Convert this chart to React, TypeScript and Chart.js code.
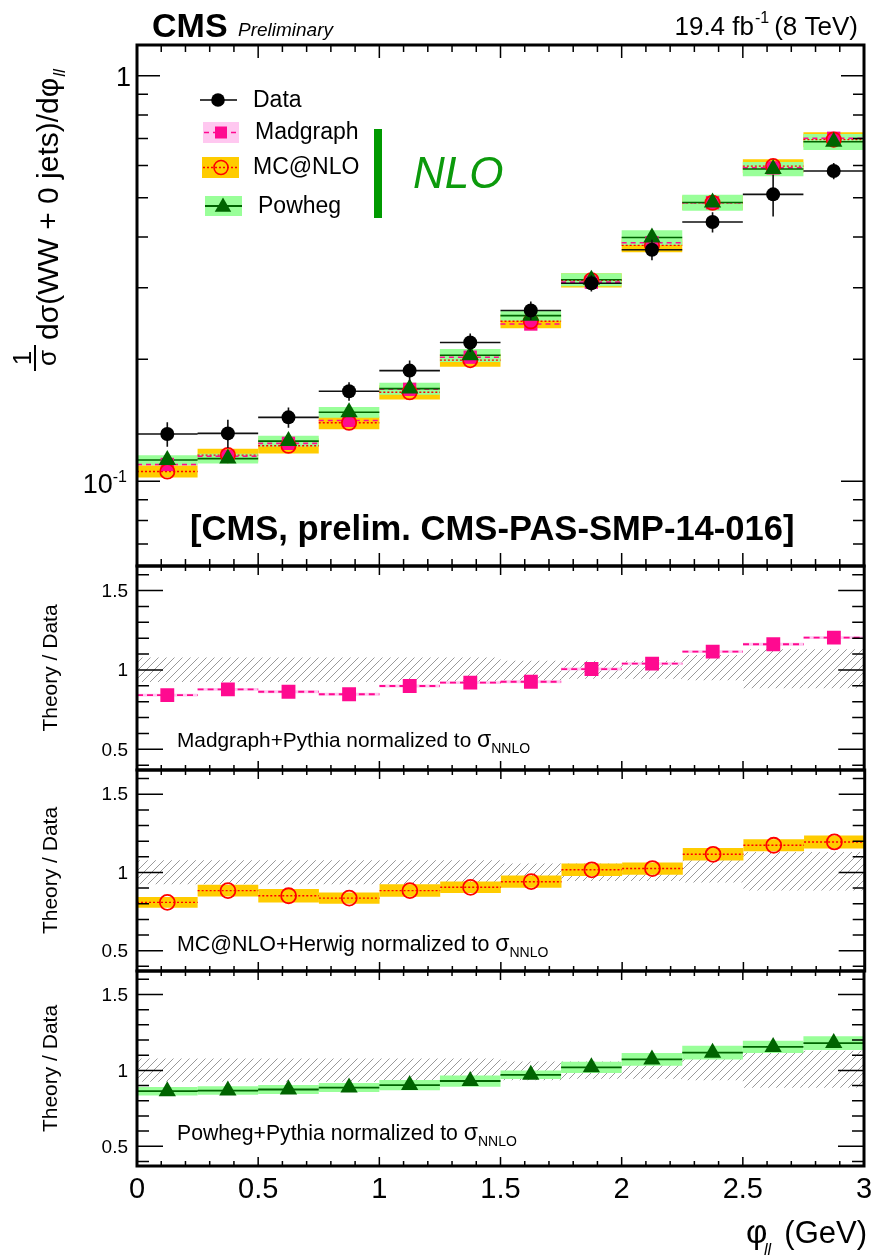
import React, { useEffect, useRef } from 'react';
import { Chart, registerables } from 'chart.js';

Chart.register(...registerables);

const FONT = "'Liberation Sans', Arial, Helvetica, sans-serif";

// ---------------- data ----------------
const binCenters = [0.125, 0.375, 0.625, 0.875, 1.125, 1.375, 1.625, 1.875, 2.125, 2.375, 2.625, 2.875];
const binHalfWidth = 0.125;

const dataValues = [0.1307, 0.1312, 0.1437, 0.1667, 0.1874, 0.2198, 0.2636, 0.3078, 0.3723, 0.4355, 0.5097, 0.582];
const dataErrors = [0.009, 0.0105, 0.0083, 0.0087, 0.011, 0.0114, 0.0137, 0.014, 0.0216, 0.025, 0.06, 0.027];

const madgraphValues = [0.11, 0.1152, 0.124, 0.1412, 0.1685, 0.2022, 0.2441, 0.3096, 0.3872, 0.486, 0.5923, 0.7007];
const mcnloValues = [0.1057, 0.116, 0.1223, 0.1394, 0.1657, 0.1989, 0.248, 0.313, 0.3816, 0.486, 0.5984, 0.6955];
const powhegValues = [0.1128, 0.1137, 0.1256, 0.1479, 0.1692, 0.2044, 0.256, 0.314, 0.3991, 0.4865, 0.5887, 0.6868];

const madgraphRatio = [0.842, 0.878, 0.863, 0.847, 0.899, 0.92, 0.926, 1.006, 1.04, 1.116, 1.162, 1.204];
const mcnloRatio = [0.809, 0.884, 0.851, 0.836, 0.884, 0.905, 0.941, 1.017, 1.025, 1.116, 1.174, 1.195];
const powhegRatio = [0.863, 0.867, 0.874, 0.887, 0.903, 0.93, 0.971, 1.02, 1.072, 1.117, 1.155, 1.18];

// theory uncertainties (relative, ratio units)
const madgraphUnc = [0.009, 0.009, 0.009, 0.009, 0.009, 0.009, 0.009, 0.009, 0.009, 0.009, 0.009, 0.009];
const mcnloUnc = [0.034, 0.037, 0.043, 0.036, 0.04, 0.037, 0.039, 0.04, 0.039, 0.04, 0.039, 0.042];
const powhegUnc = [0.028, 0.028, 0.03, 0.03, 0.034, 0.037, 0.028, 0.037, 0.042, 0.045, 0.04, 0.045];

// data uncertainty band (hatched) in ratio panels
const hatchUp = [0.078, 0.078, 0.078, 0.078, 0.078, 0.078, 0.058, 0.058, 0.058, 0.095, 0.13, 0.13];
const hatchDown = [0.075, 0.075, 0.075, 0.075, 0.075, 0.075, 0.065, 0.055, 0.055, 0.065, 0.115, 0.115];

// ticks
const xTickValues = [0, 0.5, 1, 1.5, 2, 2.5, 3];
const xTickLabels = ['0', '0.5', '1', '1.5', '2', '2.5', '3'];
const ratioTickValues = [0.5, 1, 1.5];
const ratioTickLabels = ['0.5', '1', '1.5'];
const ratioMinorTicks = [0.4, 0.6, 0.7, 0.8, 0.9, 1.1, 1.2, 1.3, 1.4, 1.6];
const mainTickValues = [0.1, 1];
const mainMinorTicks = [0.07, 0.08, 0.09, 0.2, 0.3, 0.4, 0.5, 0.6, 0.7, 0.8, 0.9];

// ---------------- style ----------------
const PINK = '#ff0a90';
const PINK_BAND = '#ffc8f0';
const YELLOW = '#ffcc00';
const RED = '#ff0000';
const GREEN_BAND = '#99ff99';
const DARK_GREEN = '#006400';
const NLO_GREEN = '#0c9a0c';

const W = 874;
const H = 1256;
const FRAME_LEFT = 137;
const FRAME_RIGHT = 866;
const panels = [
  { top: 45, bottom: 566 },
  { top: 566, bottom: 770 },
  { top: 770, bottom: 971 },
  { top: 971, bottom: 1166 },
];
const MAIN_MIN = 0.0618;
const MAIN_MAX = 1.19;
const RATIO_MIN = 0.37;
const RATIO_MAX = 1.655;

function stepData(vals: number[]) {
  const out: any[] = [];
  vals.forEach((v, i) => {
    out.push({ x: binCenters[i] - binHalfWidth, y: v });
    out.push({ x: binCenters[i] + binHalfWidth, y: v });
    out.push({ x: binCenters[i] + binHalfWidth, y: null });
  });
  return out;
}

function bandData(vals: number[], lo: number[], hi: number[], relative: boolean) {
  return vals.map((v, i) => ({
    x: binCenters[i],
    y: relative ? [v * (1 - lo[i]), v * (1 + hi[i])] : [v - lo[i], v + hi[i]],
  }));
}

function pointData(vals: number[]) {
  return vals.map((v, i) => ({ x: binCenters[i], y: v }));
}

function barDs(data: any[], color: any, order: number) {
  return {
    type: 'bar',
    data,
    backgroundColor: color,
    borderWidth: 0,
    barPercentage: 1,
    categoryPercentage: 1,
    grouped: false,
    inflateAmount: 0,
    order,
  };
}

function lineDs(data: any[], color: string, width: number, dash: number[], order: number) {
  return {
    type: 'line',
    data,
    borderColor: color,
    borderWidth: width,
    borderDash: dash,
    pointRadius: 0,
    spanGaps: false,
    fill: false,
    order,
  };
}

function markerDs(data: any[], style: string, radius: number, fillColor: string, strokeColor: string, bw: number, order: number) {
  return {
    type: 'scatter',
    data,
    pointStyle: style,
    pointRadius: radius,
    pointBackgroundColor: fillColor,
    pointBorderColor: strokeColor,
    pointBorderWidth: bw,
    showLine: false,
    order,
  };
}

function makeHatch(): CanvasPattern | string {
  const c = document.createElement('canvas');
  c.width = 8;
  c.height = 8;
  const g = c.getContext('2d');
  if (!g) return '#ccc';
  g.strokeStyle = '#9a9a9a';
  g.lineWidth = 1;
  g.beginPath();
  g.moveTo(0, 8);
  g.lineTo(8, 0);
  g.moveTo(-2, 2);
  g.lineTo(2, -2);
  g.moveTo(6, 10);
  g.lineTo(10, 6);
  g.stroke();
  return g.createPattern(c, 'repeat') || '#ccc';
}

// ---------------- drawing helpers ----------------
function drawFrame(ctx: CanvasRenderingContext2D, chart: any) {
  const { left, right, top, bottom } = chart.chartArea;
  ctx.save();
  ctx.strokeStyle = '#000';
  ctx.lineWidth = 3;
  ctx.strokeRect(left, top, right - left, bottom - top);
  ctx.restore();
}

function drawXTicks(ctx: CanvasRenderingContext2D, chart: any, majorLen: number, minorLen: number) {
  const { top, bottom } = chart.chartArea;
  const xs = chart.scales.x;
  ctx.save();
  ctx.strokeStyle = '#000';
  ctx.lineWidth = 1.5;
  ctx.beginPath();
  for (let k = 1; k < 30; k++) {
    const px = xs.getPixelForValue(k / 10);
    const len = k % 5 === 0 ? majorLen : minorLen;
    ctx.moveTo(px, bottom);
    ctx.lineTo(px, bottom - len);
    ctx.moveTo(px, top);
    ctx.lineTo(px, top + len);
  }
  ctx.stroke();
  ctx.restore();
}

function drawYTicks(ctx: CanvasRenderingContext2D, chart: any, majors: number[], minors: number[], majorLen: number, minorLen: number) {
  const { left, right } = chart.chartArea;
  const ys = chart.scales.y;
  ctx.save();
  ctx.strokeStyle = '#000';
  ctx.lineWidth = 1.5;
  ctx.beginPath();
  const add = (v: number, len: number) => {
    const py = ys.getPixelForValue(v);
    ctx.moveTo(left, py);
    ctx.lineTo(left + len, py);
    ctx.moveTo(right, py);
    ctx.lineTo(right - len, py);
  };
  majors.forEach((v) => add(v, majorLen));
  minors.forEach((v) => add(v, minorLen));
  ctx.stroke();
  ctx.restore();
}

function drawRatioYLabels(ctx: CanvasRenderingContext2D, chart: any) {
  const ys = chart.scales.y;
  ctx.save();
  ctx.fillStyle = '#000';
  ctx.font = `19px ${FONT}`;
  ctx.textAlign = 'right';
  ctx.textBaseline = 'middle';
  ratioTickValues.forEach((v, i) => {
    ctx.fillText(ratioTickLabels[i], 128, ys.getPixelForValue(v) + 1);
  });
  ctx.restore();
}

function drawRotatedTitle(ctx: CanvasRenderingContext2D, text: string, cx: number, cy: number, size: number) {
  ctx.save();
  ctx.translate(cx, cy);
  ctx.rotate(-Math.PI / 2);
  ctx.font = `${size}px ${FONT}`;
  ctx.fillStyle = '#000';
  ctx.textAlign = 'center';
  ctx.textBaseline = 'alphabetic';
  ctx.fillText(text, 0, 0);
  ctx.restore();
}

function drawAnnotation(ctx: CanvasRenderingContext2D, text: string, x: number, baseline: number, targetW: number) {
  ctx.save();
  ctx.fillStyle = '#000';
  ctx.textAlign = 'left';
  ctx.textBaseline = 'alphabetic';
  ctx.font = `20px ${FONT}`;
  const w20 = ctx.measureText(text).width;
  const fs = Math.min(22, (20 * targetW) / w20);
  ctx.font = `${fs.toFixed(1)}px ${FONT}`;
  ctx.fillText(text, x, baseline);
  let cx = x + ctx.measureText(text).width;
  ctx.font = `23px ${FONT}`;
  ctx.fillText('σ', cx, baseline);
  cx += ctx.measureText('σ').width;
  ctx.font = `14px ${FONT}`;
  ctx.fillText('NNLO', cx, baseline + 6);
  ctx.restore();
}

function drawRatioDecor(ctx: CanvasRenderingContext2D, chart: any, annotation: string, annBaseline: number, targetW: number) {
  drawXTicks(ctx, chart, 9, 5);
  drawYTicks(ctx, chart, ratioTickValues, ratioMinorTicks, 26, 12);
  drawFrame(ctx, chart);
  drawRatioYLabels(ctx, chart);
  const { top, bottom } = chart.chartArea;
  drawRotatedTitle(ctx, 'Theory / Data', 57, (top + bottom) / 2, 21);
  drawAnnotation(ctx, annotation, 177, annBaseline, targetW);
}

function drawDataErrors(ctx: CanvasRenderingContext2D, chart: any) {
  const xs = chart.scales.x;
  const ys = chart.scales.y;
  ctx.save();
  ctx.strokeStyle = '#111';
  ctx.lineWidth = 1.6;
  ctx.beginPath();
  dataValues.forEach((v, i) => {
    const x0 = xs.getPixelForValue(binCenters[i] - binHalfWidth);
    const x1 = xs.getPixelForValue(binCenters[i] + binHalfWidth);
    const xc = xs.getPixelForValue(binCenters[i]);
    const yc = ys.getPixelForValue(v);
    ctx.moveTo(x0, yc);
    ctx.lineTo(x1, yc);
    ctx.moveTo(xc, ys.getPixelForValue(v + dataErrors[i]));
    ctx.lineTo(xc, ys.getPixelForValue(v - dataErrors[i]));
  });
  ctx.stroke();
  ctx.restore();
}

function drawTriangle(ctx: CanvasRenderingContext2D, x: number, y: number, r: number, color: string) {
  ctx.beginPath();
  ctx.moveTo(x, y - r);
  ctx.lineTo(x + r * 0.866, y + r * 0.5);
  ctx.lineTo(x - r * 0.866, y + r * 0.5);
  ctx.closePath();
  ctx.fillStyle = color;
  ctx.fill();
}

function drawLegend(ctx: CanvasRenderingContext2D) {
  ctx.save();
  // Data
  ctx.strokeStyle = '#000';
  ctx.lineWidth = 1.6;
  ctx.beginPath();
  ctx.moveTo(200, 100);
  ctx.lineTo(237, 100);
  ctx.stroke();
  ctx.fillStyle = '#000';
  ctx.beginPath();
  ctx.arc(218, 100, 6.8, 0, Math.PI * 2);
  ctx.fill();
  // Madgraph
  ctx.fillStyle = PINK_BAND;
  ctx.fillRect(203, 122, 36, 21);
  ctx.strokeStyle = PINK;
  ctx.lineWidth = 1.5;
  ctx.setLineDash([5, 4]);
  ctx.beginPath();
  ctx.moveTo(204, 132.5);
  ctx.lineTo(239, 132.5);
  ctx.stroke();
  ctx.setLineDash([]);
  ctx.fillStyle = PINK;
  ctx.fillRect(215, 126.5, 12, 12);
  // MC@NLO
  ctx.fillStyle = YELLOW;
  ctx.fillRect(202, 157, 37, 21);
  ctx.strokeStyle = RED;
  ctx.lineWidth = 1.3;
  ctx.setLineDash([2, 2]);
  ctx.beginPath();
  ctx.moveTo(203, 167.5);
  ctx.lineTo(239, 167.5);
  ctx.stroke();
  ctx.setLineDash([]);
  ctx.lineWidth = 1.6;
  ctx.beginPath();
  ctx.arc(221, 167.5, 7, 0, Math.PI * 2);
  ctx.stroke();
  // Powheg
  ctx.fillStyle = GREEN_BAND;
  ctx.fillRect(205, 196, 37, 20);
  ctx.strokeStyle = DARK_GREEN;
  ctx.lineWidth = 1.8;
  ctx.beginPath();
  ctx.moveTo(205, 206);
  ctx.lineTo(242, 206);
  ctx.stroke();
  drawTriangle(ctx, 223, 207, 9.5, DARK_GREEN);

  // labels
  ctx.fillStyle = '#000';
  ctx.font = `23px ${FONT}`;
  ctx.textAlign = 'left';
  ctx.textBaseline = 'middle';
  ctx.fillText('Data', 253, 101);
  ctx.fillText('Madgraph', 255, 133);
  ctx.fillText('MC@NLO', 253, 168);
  ctx.fillText('Powheg', 258, 207);

  // NLO bracket
  ctx.fillStyle = '#009a00';
  ctx.fillRect(374, 129, 8, 89);
  ctx.fillStyle = NLO_GREEN;
  ctx.font = `italic 44px ${FONT}`;
  ctx.textBaseline = 'alphabetic';
  ctx.fillText('NLO', 413, 188);
  ctx.restore();
}

function drawMainTexts(ctx: CanvasRenderingContext2D, chart: any) {
  ctx.save();
  ctx.fillStyle = '#000';
  ctx.textBaseline = 'alphabetic';
  ctx.textAlign = 'left';
  ctx.font = `bold 34px ${FONT}`;
  ctx.fillText('CMS', 152, 37);
  ctx.font = `italic 19px ${FONT}`;
  ctx.fillText('Preliminary', 238, 36);

  // lumi
  ctx.textAlign = 'right';
  let x = 858;
  ctx.font = `26px ${FONT}`;
  ctx.fillText('(8 TeV)', x, 35);
  x -= ctx.measureText('(8 TeV)').width + 5;
  ctx.font = `16px ${FONT}`;
  ctx.fillText('-1', x, 23);
  x -= ctx.measureText('-1').width + 1;
  ctx.font = `26px ${FONT}`;
  ctx.fillText('19.4 fb', x, 35);

  // y tick labels
  const ys = chart.scales.y;
  ctx.textAlign = 'right';
  ctx.font = `27px ${FONT}`;
  const y1 = ys.getPixelForValue(mainTickValues[1]);
  ctx.fillText('1', 131, y1 + 10);
  const y01 = ys.getPixelForValue(mainTickValues[0]);
  ctx.font = `16px ${FONT}`;
  ctx.fillText('-1', 127, y01 + 1);
  const supW = ctx.measureText('-1').width;
  ctx.font = `27px ${FONT}`;
  ctx.fillText('10', 127 - supW, y01 + 12);

  // y axis title
  ctx.save();
  ctx.rotate(-Math.PI / 2);
  ctx.textAlign = 'center';
  ctx.font = `26px ${FONT}`;
  ctx.fillText('1', -358, 31);
  ctx.fillText('σ', -358, 56);
  ctx.fillRect(-371, 34, 26, 2);
  ctx.textAlign = 'left';
  ctx.font = `30px ${FONT}`;
  const t = 'dσ(WW + 0 jets)/dφ';
  ctx.fillText(t, -340, 58);
  const tw = ctx.measureText(t).width;
  ctx.font = `italic 17px ${FONT}`;
  ctx.fillText('ll', -340 + tw + 1, 65);
  ctx.restore();

  // reference label
  ctx.textAlign = 'left';
  let fs = 34;
  const label = '[CMS, prelim. CMS-PAS-SMP-14-016]';
  ctx.font = `bold ${fs}px ${FONT}`;
  const mw = ctx.measureText(label).width;
  fs = (fs * 605) / mw;
  ctx.font = `bold ${fs.toFixed(1)}px ${FONT}`;
  ctx.fillText(label, 190, 540);
  ctx.restore();
}

function drawBottomAxis(ctx: CanvasRenderingContext2D, chart: any) {
  const xs = chart.scales.x;
  ctx.save();
  ctx.fillStyle = '#000';
  ctx.font = `29px ${FONT}`;
  ctx.textAlign = 'center';
  ctx.textBaseline = 'alphabetic';
  xTickValues.forEach((v, i) => {
    ctx.fillText(xTickLabels[i], xs.getPixelForValue(v), 1198);
  });
  // axis title
  ctx.textAlign = 'right';
  ctx.font = `31px ${FONT}`;
  ctx.fillText('(GeV)', 867, 1243);
  const gw = ctx.measureText('(GeV)').width;
  ctx.textAlign = 'left';
  ctx.font = `33px ${FONT}`;
  ctx.fillText('φ', 746, 1243);
  ctx.font = `italic 16px ${FONT}`;
  ctx.fillText('ll', 764, 1255);
  ctx.restore();
  return gw;
}

// ---------------- chart configs ----------------
function baseOptions(panelIdx: number, yScale: any) {
  const p = panels[panelIdx];
  return {
    responsive: false,
    maintainAspectRatio: false,
    animation: false,
    devicePixelRatio: 1,
    events: [],
    layout: { padding: { left: FRAME_LEFT, right: W - FRAME_RIGHT, top: p.top, bottom: H - p.bottom } },
    plugins: { legend: { display: false }, tooltip: { enabled: false } },
    scales: {
      x: { type: 'linear', min: 0, max: 3, offset: false, display: false, grid: { offset: false } },
      y: yScale,
    },
  };
}

function mainConfig(): any {
  const datasets = [
    barDs(bandData(madgraphValues, madgraphUnc, madgraphUnc, true), PINK_BAND, 20),
    barDs(bandData(mcnloValues, mcnloUnc, mcnloUnc, true), YELLOW, 19),
    barDs(bandData(powhegValues, powhegUnc, powhegUnc, true), GREEN_BAND, 18),
    lineDs(stepData(mcnloValues), RED, 1.4, [2, 2], 17),
    lineDs(stepData(madgraphValues), PINK, 1.6, [5, 4], 16),
    lineDs(stepData(powhegValues), DARK_GREEN, 1.6, [], 15),
    markerDs(pointData(madgraphValues), 'rect', 9.4, PINK, PINK, 0, 14),
    markerDs(pointData(mcnloValues), 'circle', 7.2, 'rgba(0,0,0,0)', RED, 1.7, 13),
    markerDs(pointData(powhegValues), 'triangle', 10, DARK_GREEN, DARK_GREEN, 0, 12),
    markerDs(pointData(dataValues), 'circle', 7, '#000', '#000', 0, 1),
  ];
  const plugin = {
    id: 'mainDecor',
    beforeDatasetDraw(chart: any, args: any) {
      if (args.index === datasets.length - 1) drawDataErrors(chart.ctx, chart);
    },
    afterDraw(chart: any) {
      const ctx = chart.ctx;
      drawXTicks(ctx, chart, 13, 7);
      drawYTicks(ctx, chart, mainTickValues, mainMinorTicks, 23, 11);
      drawFrame(ctx, chart);
      drawLegend(ctx);
      drawMainTexts(ctx, chart);
    },
  };
  return {
    type: 'bar',
    data: { datasets },
    options: baseOptions(0, { type: 'logarithmic', min: MAIN_MIN, max: MAIN_MAX, display: false }),
    plugins: [plugin],
  };
}

function ratioConfig(idx: number, hatch: any, kind: 'madgraph' | 'mcnlo' | 'powheg'): any {
  const ratio = kind === 'madgraph' ? madgraphRatio : kind === 'mcnlo' ? mcnloRatio : powhegRatio;
  const unc = kind === 'madgraph' ? madgraphUnc : kind === 'mcnlo' ? mcnloUnc : powhegUnc;
  const ones = ratio.map(() => 1);
  const datasets: any[] = [barDs(bandData(ones, hatchDown, hatchUp, false), hatch, 20)];
  let annotation = '';
  let baseline = 0;
  let targetW = 300;
  if (kind === 'madgraph') {
    datasets.push(barDs(bandData(ratio, unc, unc, false), PINK_BAND, 19));
    datasets.push(lineDs(stepData(ratio), PINK, 1.8, [6, 4], 18));
    datasets.push(markerDs(pointData(ratio), 'rect', 9.8, PINK, PINK, 0, 17));
    annotation = 'Madgraph+Pythia normalized to ';
    baseline = 747;
    targetW = 300;
  } else if (kind === 'mcnlo') {
    datasets.push(barDs(bandData(ratio, unc, unc, false), YELLOW, 19));
    datasets.push(lineDs(stepData(ratio), RED, 1.4, [2, 2], 18));
    datasets.push(markerDs(pointData(ratio), 'circle', 7.5, 'rgba(0,0,0,0)', RED, 1.8, 17));
    annotation = 'MC@NLO+Herwig normalized to ';
    baseline = 951;
    targetW = 318;
  } else {
    datasets.push(barDs(bandData(ratio, unc, unc, false), GREEN_BAND, 19));
    datasets.push(lineDs(stepData(ratio), DARK_GREEN, 1.8, [], 18));
    datasets.push(markerDs(pointData(ratio), 'triangle', 10, DARK_GREEN, DARK_GREEN, 0, 17));
    annotation = 'Powheg+Pythia normalized to ';
    baseline = 1140;
    targetW = 287;
  }
  const plugin = {
    id: 'ratioDecor' + idx,
    afterDraw(chart: any) {
      const ctx = chart.ctx;
      drawRatioDecor(ctx, chart, annotation, baseline, targetW);
      if (kind === 'powheg') drawBottomAxis(ctx, chart);
    },
  };
  return {
    type: 'bar',
    data: { datasets },
    options: baseOptions(idx, { type: 'linear', min: RATIO_MIN, max: RATIO_MAX, display: false }),
    plugins: [plugin],
  };
}

export default function App() {
  const r0 = useRef<HTMLCanvasElement>(null);
  const r1 = useRef<HTMLCanvasElement>(null);
  const r2 = useRef<HTMLCanvasElement>(null);
  const r3 = useRef<HTMLCanvasElement>(null);

  useEffect(() => {
    const hatch = makeHatch();
    const charts: Chart[] = [];
    if (r0.current) charts.push(new Chart(r0.current, mainConfig()));
    if (r1.current) charts.push(new Chart(r1.current, ratioConfig(1, hatch, 'madgraph')));
    if (r2.current) charts.push(new Chart(r2.current, ratioConfig(2, hatch, 'mcnlo')));
    if (r3.current) charts.push(new Chart(r3.current, ratioConfig(3, hatch, 'powheg')));
    return () => charts.forEach((c) => c.destroy());
  }, []);

  const cs: React.CSSProperties = { position: 'absolute', left: 0, top: 0, width: W, height: H, display: 'block' };
  return (
    <div style={{ position: 'absolute', left: 0, top: 0, width: W, height: H, background: '#fff', overflow: 'hidden' }}>
      <canvas ref={r0} width={W} height={H} style={cs} />
      <canvas ref={r1} width={W} height={H} style={cs} />
      <canvas ref={r2} width={W} height={H} style={cs} />
      <canvas ref={r3} width={W} height={H} style={cs} />
    </div>
  );
}
